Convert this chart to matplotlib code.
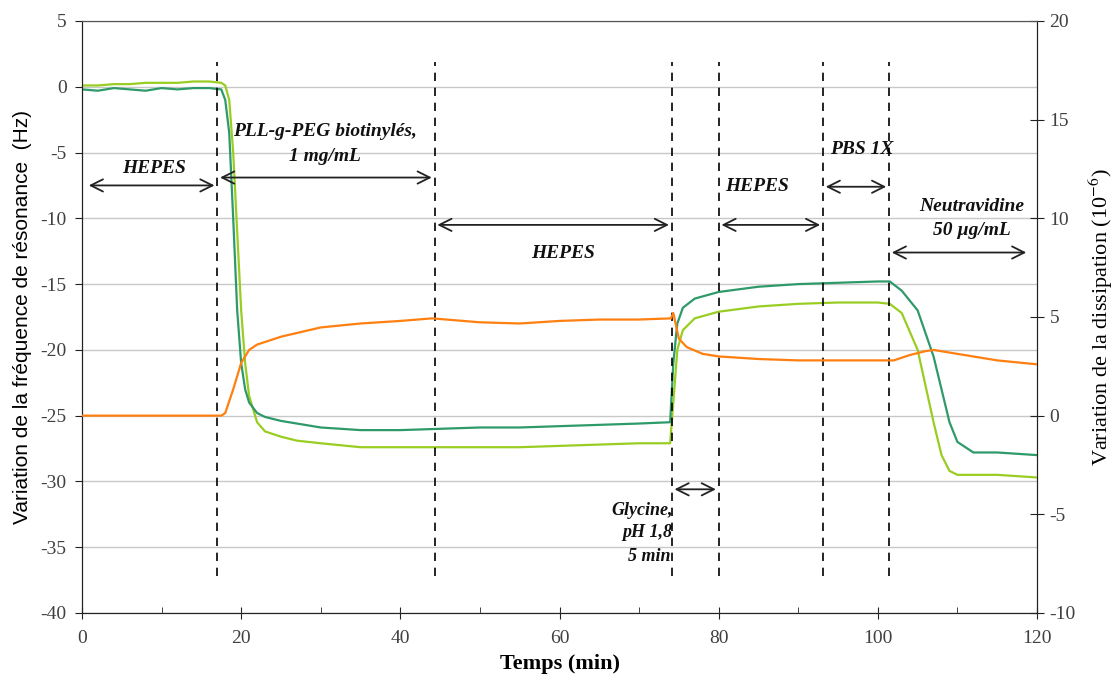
import numpy as np
import matplotlib.pyplot as plt

# temps (min) et variation de fréquence (Hz) - harmonique 1 (vert foncé)
t_f1 = [0, 2, 4, 6, 8, 10, 12, 14, 16, 17.5, 18, 18.5, 19, 19.5, 20, 20.5, 21, 22, 23, 25, 27, 30, 35,
        40, 45, 50, 55, 60, 65, 70, 73.9, 74.3, 74.8, 75.5, 77, 80, 85, 90, 95, 100, 101.5, 103, 105,
        107, 109, 110, 112, 115, 120]
f1 = [-0.2, -0.3, -0.1, -0.2, -0.3, -0.1, -0.2, -0.1, -0.1, -0.2, -1.0, -3.5, -10, -17, -21, -23, -24,
      -24.8, -25.1, -25.4, -25.6, -25.9, -26.1, -26.1, -26.0, -25.9, -25.9, -25.8, -25.7, -25.6, -25.5,
      -21, -18, -16.8, -16.1, -15.6, -15.2, -15.0, -14.9, -14.8, -14.8, -15.5, -17, -20.5, -25.5, -27,
      -27.8, -27.8, -28.0]

# harmonique 2 (vert clair)
t_f2 = [0, 2, 4, 6, 8, 10, 12, 14, 16, 17.5, 18, 18.5, 19, 19.5, 20, 20.5, 21, 22, 23, 25, 27, 30, 35,
        40, 45, 50, 55, 60, 65, 70, 73.9, 74.3, 74.8, 75.5, 77, 80, 85, 90, 95, 100, 101.5, 103, 105,
        107, 108, 109, 110, 115, 120]
f2 = [0.1, 0.1, 0.2, 0.2, 0.3, 0.3, 0.3, 0.4, 0.4, 0.3, 0.1, -1, -5, -11, -17, -21, -23.5, -25.5, -26.2,
      -26.6, -26.9, -27.1, -27.4, -27.4, -27.4, -27.4, -27.4, -27.3, -27.2, -27.1, -27.1, -24, -20,
      -18.5, -17.6, -17.1, -16.7, -16.5, -16.4, -16.4, -16.5, -17.2, -20, -25.5, -28, -29.2, -29.5,
      -29.5, -29.7]

# variation de dissipation (10^-6) - orange
t_d = [0, 5, 10, 15, 17.5, 18, 19, 20, 21, 22, 25, 30, 35, 40, 44, 50, 55, 60, 65, 70, 74, 74.3, 75, 76,
       78, 80, 85, 90, 95, 100, 102, 104, 106, 107, 110, 115, 120]
d = [0, 0, 0, 0, 0, 0.13, 1.33, 2.67, 3.33, 3.6, 4.0, 4.47, 4.67, 4.8, 4.93, 4.73, 4.67, 4.8, 4.87, 4.87,
     4.93, 5.2, 3.9, 3.47, 3.13, 3.0, 2.87, 2.8, 2.8, 2.8, 2.8, 3.07, 3.27, 3.33, 3.13, 2.8, 2.6]

# injections : positions des traits pointillés
t_inj = [17, 44.3, 74.1, 80, 93.1, 101.4]

plt.rcParams['font.family'] = ['Liberation Serif', 'DejaVu Serif']
plt.rcParams['axes.unicode_minus'] = False
plt.rcParams['mathtext.fontset'] = 'stix'

fig = plt.figure(figsize=(11.14, 6.75), dpi=100)
ax = fig.add_axes([0.0736, 0.0919, 0.8573, 0.877])
ax2 = ax.twinx()

ax.set_xlim(0, 120)
ax.set_ylim(-40, 5)
ax2.set_ylim(-10, 20)
ax.set_yticks(np.arange(-40, 6, 5))
ax2.set_yticks(np.arange(-10, 21, 5))
ax.set_xticks(np.arange(0, 121, 20))
ax.set_xticks(np.arange(10, 120, 20), minor=True)

ax.grid(axis='y', color='#c8c8c8', lw=1)
ax.set_axisbelow(True)

ax.plot(t_f2, f2, color='#9acd22', lw=1.6, zorder=3)
ax.plot(t_f1, f1, color='#2e9a6a', lw=1.6, zorder=3)
ax2.plot(t_d, d, color='#ff7f10', lw=1.6, zorder=3)

for x in t_inj:
    ax.plot([x, x], [-37.2, 1.9], color='black', lw=1.2, ls=(0, (5, 4)), zorder=4)

for sp in ['left', 'right', 'bottom']:
    ax.spines[sp].set_color('#222222')
    ax2.spines[sp].set_color('#222222')
ax.spines['top'].set_color('#555555')
ax2.spines['top'].set_color('#555555')

ax.tick_params(axis='y', direction='out', length=5, labelsize=14, labelcolor='#404040',
               color='#222222', pad=6)
ax.tick_params(axis='x', which='major', direction='inout', length=8, labelsize=14, labelcolor='#404040',
               color='#222222', pad=8)
ax.tick_params(axis='x', which='minor', direction='in', length=4, color='#222222')
ax2.tick_params(axis='y', direction='inout', length=10, labelsize=14, labelcolor='#404040',
                color='#222222', pad=4)

ax.set_xlabel('Temps (min)', fontsize=16, fontweight='bold', labelpad=5)
ax.set_ylabel('Variation de la fréquence de résonance  (Hz)', fontsize=15,
              family=['Liberation Sans', 'DejaVu Sans'], labelpad=6)
ax2.set_ylabel('Variation de la dissipation (10$^{-6}$)', fontsize=16, labelpad=8)


def fleche(x0, x1, y):
    ax.annotate('', xy=(x1, y), xytext=(x0, y),
                arrowprops=dict(arrowstyle='<->', color='#222222', lw=1.3, mutation_scale=22))


txt = dict(fontsize=14, fontweight='bold', fontstyle='italic', ha='center', va='center', color='#111111')

fleche(0.5, 17, -7.5)
ax.text(9, -6.2, 'HEPES', **txt)
fleche(17, 44.3, -6.9)
ax.text(30.5, -3.4, 'PLL-g-PEG biotinylés,', **txt)
ax.text(30.5, -5.3, '1 mg/mL', **txt)
fleche(44.3, 74.1, -10.5)
ax.text(60.4, -12.7, 'HEPES', **txt)
fleche(74.1, 80, -30.6)
ax.text(74.2, -32.2, 'Glycine,', fontsize=13, fontweight='bold', fontstyle='italic', ha='right',
        va='center', color='#111111')
ax.text(74.2, -33.9, 'pH 1,8', fontsize=13, fontweight='bold', fontstyle='italic', ha='right',
        va='center', color='#111111')
ax.text(73.9, -35.7, '5 min', fontsize=13, fontweight='bold', fontstyle='italic', ha='right',
        va='center', color='#111111')
fleche(80, 93.1, -10.5)
ax.text(84.8, -7.6, 'HEPES', **txt)
fleche(93.1, 101.4, -7.6)
ax.text(98.0, -4.8, 'PBS 1X', **txt)
fleche(101.4, 119, -12.6)
ax.text(111.8, -9.1, 'Neutravidine', **txt)
ax.text(111.8, -10.9, '50 µg/mL', **txt)

fig.savefig('out.png', dpi=100)
